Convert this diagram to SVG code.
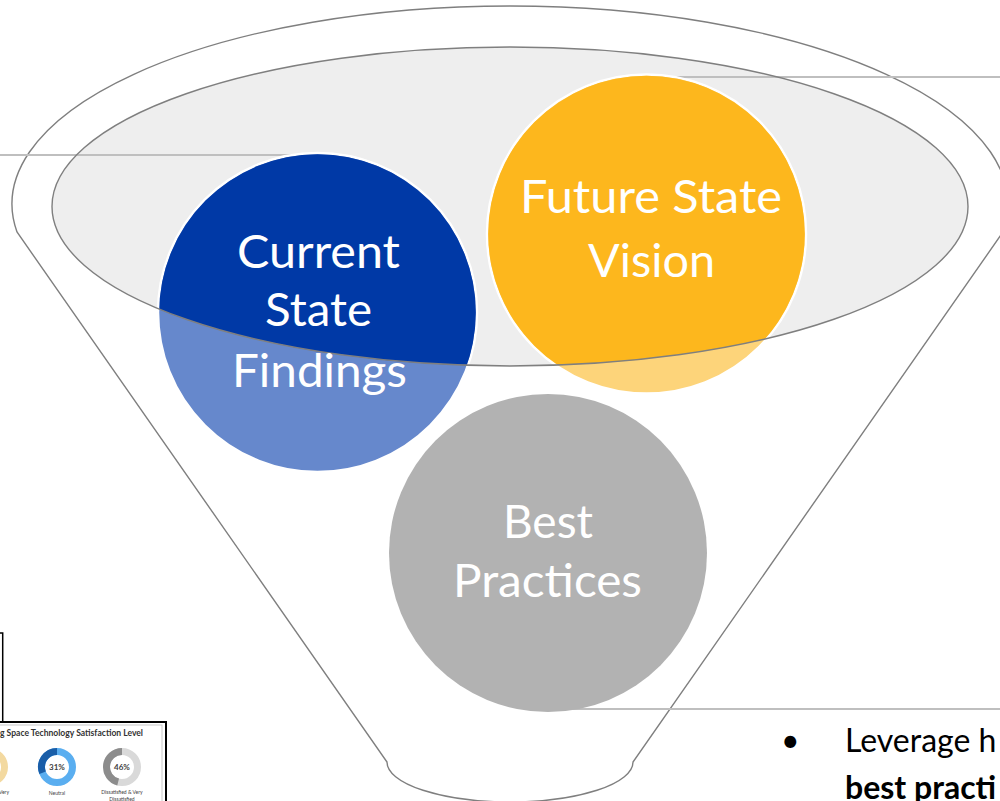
<svg xmlns="http://www.w3.org/2000/svg" width="1000" height="801" viewBox="0 0 1000 801">
  <style>
    .outline { fill: none; stroke: #7f7f7f; stroke-width: 1.4; }
    .leader { fill: none; stroke: #bfbfbf; stroke-width: 2; }
    .ring { stroke: #ffffff; stroke-width: 2.5; }
    .label { font-family: Lato, "Liberation Sans", sans-serif; font-size: 46px; fill: #ffffff; text-anchor: middle; }
    .small { font-family: Lato, "Liberation Sans", sans-serif; fill: #404040; text-anchor: middle; }
    .body { font-family: Lato, "Liberation Sans", sans-serif; font-size: 32px; fill: #000000; }
  </style>
  <defs>
    <clipPath id="innerClip">
      <ellipse cx="510" cy="206.5" rx="458" ry="159.5"/>
    </clipPath>
  </defs>

  <g id="funnel">
    <path class="outline" d="M 17 232 A 498 198 0 1 1 1003 232 L 633 762 A 123 40 0 0 1 387 762 Z"/>
    <ellipse cx="510" cy="206.5" rx="458" ry="159.5" fill="#eeeeee"/>
  </g>

  <g id="connectors">
    <line class="leader" x1="0" y1="155" x2="317" y2="155"/>
    <line class="leader" x1="646" y1="77" x2="1000" y2="77"/>
    <line class="leader" x1="548" y1="709" x2="1000" y2="709"/>
  </g>

  <g id="current-state">
    <circle class="ring" cx="317.5" cy="312.5" r="159.5" fill="#6688cc"/>
    <circle cx="317.5" cy="312.5" r="158.3" fill="#0039a6" clip-path="url(#innerClip)"/>
  </g>

  <g id="future-state">
    <circle class="ring" cx="646.5" cy="234" r="159.5" fill="#fdd47a"/>
    <circle cx="646.5" cy="234" r="158.3" fill="#fdb71d" clip-path="url(#innerClip)"/>
  </g>

  <g id="best-practices">
    <circle cx="548" cy="553" r="159" fill="#b2b2b2"/>
  </g>

  <g id="funnel-top-edge">
    <ellipse class="outline" cx="510" cy="206.5" rx="458" ry="159.5"/>
  </g>

  <g id="labels">
    <text class="label" x="318.5" y="268" textLength="163" lengthAdjust="spacingAndGlyphs">Current</text>
    <text class="label" x="318.5" y="326" textLength="107" lengthAdjust="spacingAndGlyphs">State</text>
    <text class="label" x="319.5" y="387" textLength="175" lengthAdjust="spacingAndGlyphs">Findings</text>
    <text class="label" x="651" y="213" textLength="262" lengthAdjust="spacingAndGlyphs">Future State</text>
    <text class="label" x="651.5" y="277" textLength="127" lengthAdjust="spacingAndGlyphs">Vision</text>
    <text class="label" x="548" y="538" textLength="90" lengthAdjust="spacingAndGlyphs">Best</text>
    <text class="label" x="547.5" y="597" textLength="189" lengthAdjust="spacingAndGlyphs">Practices</text>
  </g>

  <g id="side-box">
    <rect x="-3" y="633" width="5.7" height="89" fill="#ffffff" stroke="#000000" stroke-width="1.5"/>
  </g>

  <g id="chart">
    <rect x="-3" y="722" width="169" height="85" fill="#ffffff" stroke="#000000" stroke-width="2"/>
    <rect x="-3" y="725" width="165" height="80" fill="none" stroke="#c8c8c8" stroke-width="1"/>
    <text x="0" y="736" font-family="Lato, 'Liberation Sans', sans-serif" font-size="8.5" font-weight="bold" fill="#333333" textLength="143" lengthAdjust="spacingAndGlyphs">g Space Technology Satisfaction Level</text>
    <circle cx="-11" cy="767" r="15.5" fill="none" stroke="#f3d9a0" stroke-width="7"/>
    <circle cx="57" cy="767" r="15.5" fill="none" stroke="#5aaef0" stroke-width="7"/>
    <path d="M 57 751.5 A 15.5 15.5 0 0 0 42.59 772.71" fill="none" stroke="#1a5ea8" stroke-width="7"/>
    <circle cx="122" cy="767" r="15.5" fill="none" stroke="#d9d9d9" stroke-width="7"/>
    <path d="M 122 751.5 A 15.5 15.5 0 0 0 118.15 782.01" fill="none" stroke="#8c8c8c" stroke-width="7"/>
    <text class="small" x="57" y="770" font-size="8" font-weight="bold">31%</text>
    <text class="small" x="122" y="770" font-size="8" font-weight="bold">46%</text>
    <text class="small" x="4" y="794" font-size="5">Very</text>
    <text class="small" x="57" y="795" font-size="5">Neutral</text>
    <text class="small" x="122" y="794" font-size="5">Dissatisfied &amp; Very</text>
    <text class="small" x="122" y="801" font-size="5">Dissatisfied</text>
  </g>

  <g id="bullet-text">
    <text class="body" x="781" y="752">•</text>
    <text class="body" x="845" y="752">Leverage h</text>
    <text class="body" x="845" y="799" font-weight="bold">best practi</text>
  </g>
</svg>
